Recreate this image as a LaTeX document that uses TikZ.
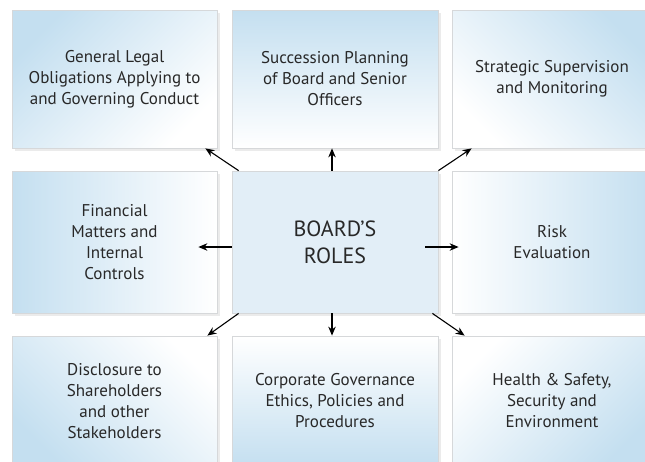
\documentclass[tikz,border=0pt]{standalone}
\usepackage{fontspec}
\setmainfont{PT Sans}
\usetikzlibrary{arrows.meta,shadows}
\definecolor{boxblue}{RGB}{196,223,240}
\definecolor{roleblue}{RGB}{226,238,247}
\definecolor{boxline}{RGB}{214,216,218}
\definecolor{txtgray}{RGB}{40,40,40}

\begin{document}
\begin{tikzpicture}[x=1pt, y=-1pt,
    box/.style={draw=boxline, line width=0.8pt, minimum width=205pt, minimum height=138pt, inner sep=0pt, align=center, font=\fontsize{17}{21}\selectfont, text=txtgray, drop shadow={shadow xshift=3pt, shadow yshift=-3pt, fill=black!8, opacity=1}},
    blueside/.style={top color=boxblue, bottom color=white, shading angle=#1},
    arrow/.style={-{Stealth[length=9pt,width=7.5pt]}, line width=1.1pt}
]
    \useasboundingbox (0,0) rectangle (645,461);
    \clip (0,0) rectangle (645,461);
    \fill[white] (0,0) rectangle (645,461);

    % Top row
    \node[box, blueside=45] (legal) at (114.5,79) {General Legal\\Obligations Applying to\\and Governing Conduct};
    \node[box, blueside=0, minimum width=206pt] (succession) at (335,79) {Succession Planning\\of Board and Senior\\Officers};
    \node[box, blueside=-45, minimum width=200pt] (strategic) at (552,79) {Strategic Supervision\\and Monitoring};

    % Middle row
    \node[box, blueside=90, minimum height=142pt] (financial) at (114.5,242) {Financial\\Matters and\\Internal\\Controls};
    \node[box, fill=roleblue, minimum width=206pt, minimum height=142pt, font=\fontsize{22}{27}\selectfont] (roles) at (335,242) {BOARD'S\\ROLES};
    \node[box, blueside=-90, minimum width=200pt, minimum height=142pt] (risk) at (552,242) {Risk\\Evaluation};

    % Bottom row
    \node[box, blueside=135, minimum height=130pt] (disclosure) at (114.5,401) {Disclosure to\\Shareholders\\and other\\Stakeholders};
    \node[box, blueside=180, minimum width=206pt, minimum height=130pt] (governance) at (335,401) {Corporate Governance\\Ethics, Policies and\\Procedures};
    \node[box, blueside=-135, minimum width=200pt, minimum height=130pt] (health) at (552,401) {Health \& Safety,\\Security and\\Environment};

    % Role arrows
    \draw[arrow] ([xshift=7pt]roles.north west) -- ([xshift=-12pt]legal.south east);
    \draw[arrow] ([xshift=-3pt]roles.north) -- ([xshift=-3pt]succession.south);
    \draw[arrow] (roles.north east) -- ([xshift=20pt]strategic.south west);
    \draw[arrow] ([yshift=-5pt]roles.west) -- ([xshift=-19pt,yshift=-5pt]financial.east);
    \draw[arrow] ([xshift=-13pt,yshift=-5pt]roles.east) -- ([xshift=7pt,yshift=-5pt]risk.west);
    \draw[arrow] ([xshift=7pt]roles.south west) -- ([xshift=-10pt]disclosure.north east);
    \draw[arrow] ([xshift=-3pt]roles.south) -- ([xshift=-3pt]governance.north);
    \draw[arrow] ([xshift=-6pt]roles.south east) -- ([xshift=13pt]health.north west);
\end{tikzpicture}
\end{document}
